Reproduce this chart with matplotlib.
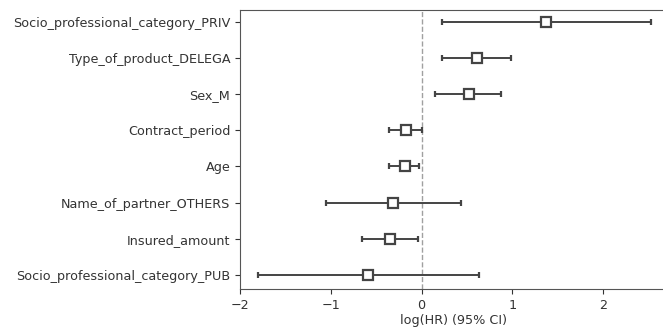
import matplotlib
matplotlib.use("Agg")
import matplotlib.pyplot as plt
import numpy as np

variables = ["Socio_professional_category_PUB", "Insured_amount", "Name_of_partner_OTHERS",
             "Age", "Contract_period", "Sex_M", "Type_of_product_DELEGA",
             "Socio_professional_category_PRIV"]
coef = [-0.59, -0.35, -0.32, -0.18, -0.17, 0.52, 0.61, 1.37]
lower = [-1.80, -0.66, -1.05, -0.36, -0.36, 0.15, 0.23, 0.23]
upper = [0.63, -0.04, 0.43, -0.03, 0.00, 0.88, 0.99, 2.53]

fig = plt.figure(figsize=(6.63, 3.29), dpi=100)
ax = fig.add_axes([0.362, 0.1216, 0.645, 0.848])

y = np.arange(len(variables))
c = np.array(coef)
err = np.vstack([c - np.array(lower), np.array(upper) - c])
ax.errorbar(c, y, xerr=err, fmt="s", color="#444444", markerfacecolor="white",
            markeredgewidth=1.6, markersize=6.5, elinewidth=1.4, capsize=2.5, capthick=1.4)
ax.axvline(0, ls="--", color="#888888", lw=1.0, alpha=0.8, zorder=0)
ax.set_yticks(y)
ax.set_yticklabels(variables, fontsize=9.2, color="#333333")
ax.set_xlim(-2, 2.71)
ax.set_ylim(-0.39, 7.33)
ax.set_xticks([-2, -1, 0, 1, 2])
ax.tick_params(axis="x", labelsize=9.2, colors="#333333")
ax.tick_params(axis="y", colors="#333333")
ax.set_xlabel("log(HR) (95% CI)", fontsize=9.2, color="#333333", labelpad=2)
for s in ax.spines.values():
    s.set_color("#555555")
fig.savefig("out.png", dpi=100)
